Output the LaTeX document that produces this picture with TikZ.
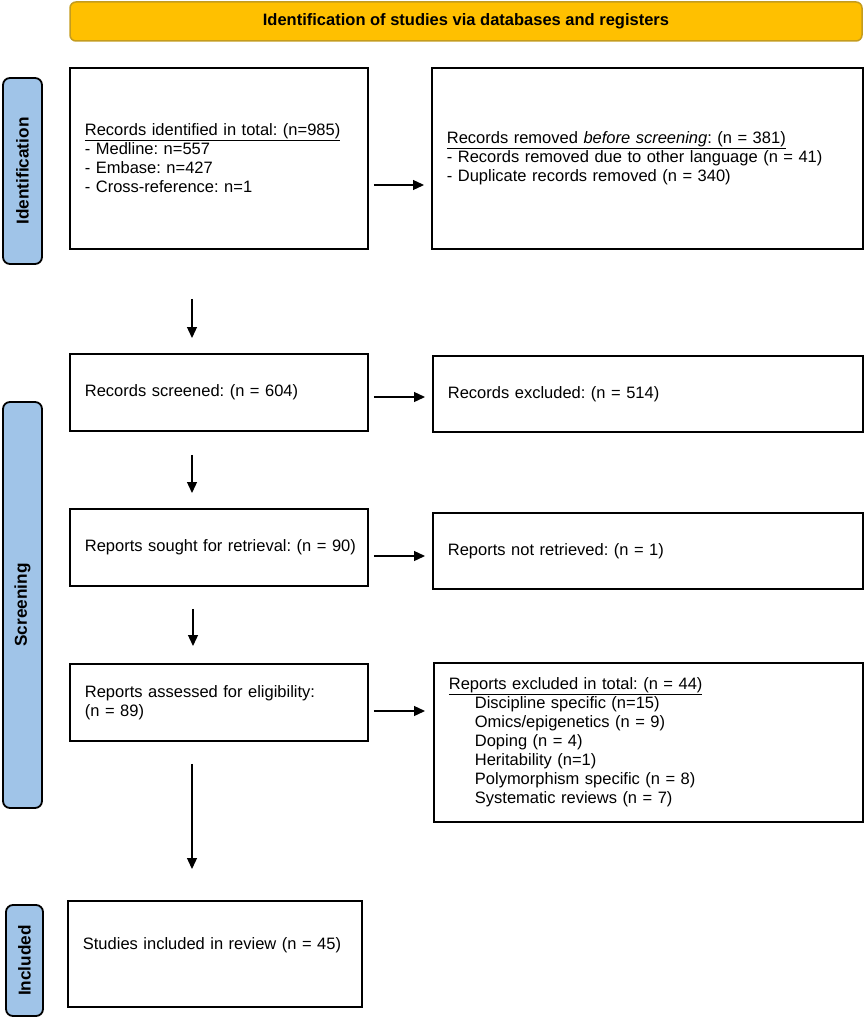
\documentclass[tikz,border=0pt]{standalone}
\usepackage{fontspec}
\setmainfont{Liberation Sans}
\usetikzlibrary{arrows.meta,calc}
\definecolor{bannerfill}{RGB}{255,192,0}
\definecolor{bannerdraw}{RGB}{196,156,30}
\definecolor{phasefill}{RGB}{160,196,232}
\frenchspacing
\tikzset{
  txt/.style={font=\fontsize{16.5}{19}\selectfont},
  box/.style={txt, draw=black, line width=1.8pt, fill=white, inner xsep=15pt, inner ysep=0pt,
    align=left, anchor=north west},
  phase/.style={draw=black, line width=1.8pt, fill=phasefill, rounded corners=7pt, rotate=90,
    inner sep=0pt, font=\fontsize{17.2}{19}\selectfont\bfseries},
  banner/.style={draw=bannerdraw, line width=1.5pt, fill=bannerfill, rounded corners=6pt,
    inner sep=0pt, font=\fontsize{16.5}{19}\selectfont\bfseries},
  arr/.style={line width=1.3pt, -{Triangle[length=11pt,width=10pt]}}
}
\begin{document}
\begin{tikzpicture}[x=1pt,y=-1pt]
\useasboundingbox (0,0) rectangle (865,1019);

% banner
\node[banner, minimum width=792pt, minimum height=39pt] (ban) at (466,21.5)
  {Identification of studies via databases and registers};

% phase bars
\node[phase, minimum width=186pt, minimum height=39pt] (pid) at (22.5,171) {Identification};
\node[phase, minimum width=406pt, minimum height=39pt] (psc) at (22.5,605) {Screening};
\node[phase, minimum width=111pt, minimum height=37pt] (pin) at (24.5,960.5) {Included};

% boxes
\node[box, minimum width=298pt, minimum height=181pt, text width=268pt] (b1) at (69,67)
  {\underline{Records identified in total: (n=985)}\\
   - Medline: n=557\\
   - Embase: n=427\\
   - Cross-reference: n=1};
\node[box, minimum width=431pt, minimum height=181pt, text width=401pt] (b2) at (431,67)
  {\underline{Records removed \textit{before screening}: (n = 381)}\\
   - Records removed due to other language (n = 41)\\
   - Duplicate records removed (n = 340)};
\node[box, minimum width=298pt, minimum height=77pt, text width=268pt] (b3) at (69,353)
  {Records screened: (n = 604)};
\node[box, minimum width=430pt, minimum height=76pt, text width=400pt] (b4) at (432,355)
  {Records excluded: (n = 514)};
\node[box, minimum width=298pt, minimum height=77pt, text width=268pt] (b5) at (69,508)
  {\mbox{Reports sought for retrieval: (n = 90)}};
\node[box, minimum width=430pt, minimum height=76pt, text width=400pt] (b6) at (432,512)
  {Reports not retrieved: (n = 1)};
\node[box, minimum width=298pt, minimum height=77pt, text width=268pt] (b7) at (69,663)
  {Reports assessed for eligibility:\\(n = 89)};
\node[box, minimum width=429pt, minimum height=159pt, text width=399pt] (b8) at (433,662)
  {\underline{Reports excluded in total: (n = 44)}\\
   \hspace*{26pt}Discipline specific (n=15)\\
   \hspace*{26pt}Omics/epigenetics (n = 9)\\
   \hspace*{26pt}Doping (n = 4)\\
   \hspace*{26pt}Heritability (n=1)\\
   \hspace*{26pt}Polymorphism specific (n = 8)\\
   \hspace*{26pt}Systematic reviews (n = 7)};
\node[box, minimum width=294pt, minimum height=106pt, text width=264pt, text depth=20pt] (b9) at (67,900)
  {Studies included in review (n = 45)};

% horizontal arrows
\draw[arr] ($(b1.east |- 0,185)+(5,0)$) -- ($(b2.west |- 0,185)+(-7,0)$);
\draw[arr] ($(b3.east |- 0,397)+(5,0)$) -- ($(b4.west |- 0,397)+(-7,0)$);
\draw[arr] ($(b5.east |- 0,556)+(5,0)$) -- ($(b6.west |- 0,556)+(-7,0)$);
\draw[arr] ($(b7.east |- 0,711)+(5,0)$) -- ($(b8.west |- 0,711)+(-8,0)$);

% vertical arrows
\draw[arr] ($(b1.south -| 192,0)+(0,49)$) -- ($(b3.north -| 192,0)+(0,-15)$);
\draw[arr] ($(b3.south -| 192,0)+(0,23)$) -- ($(b5.north -| 192,0)+(0,-15)$);
\draw[arr] ($(b5.south -| 193,0)+(0,22)$) -- ($(b7.north -| 193,0)+(0,-17)$);
\draw[arr] ($(b7.south -| 192,0)+(0,22)$) -- ($(b9.north -| 192,0)+(0,-31)$);
\end{tikzpicture}
\end{document}
